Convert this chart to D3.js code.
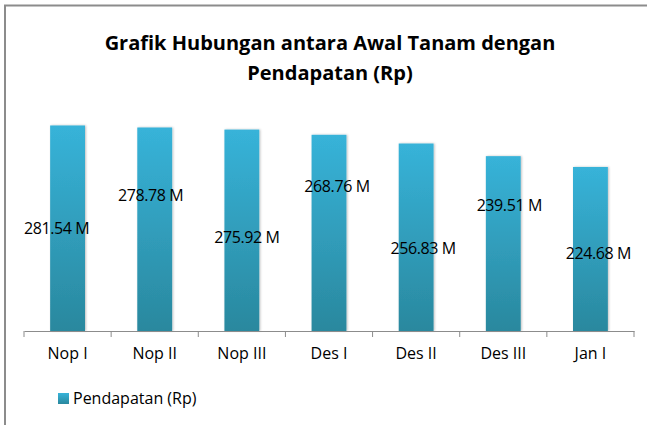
<!DOCTYPE html>
<html>
<head>
<meta charset="utf-8">
<script src="https://cdn.jsdelivr.net/npm/d3@7"></script>
<style>
	body { margin: 0; background: #fff; }
	svg { display: block; font-family: "Open Sans", "Noto Sans", sans-serif; }
</style>
</head>
<body>
<div id="main"></div>
<script>
// chart data
var categories = ['Nop I', 'Nop II', 'Nop III', 'Des I', 'Des II', 'Des III', 'Jan I'];
var pendapatan = [281.54, 278.78, 275.92, 268.76, 256.83, 239.51, 224.68];
var labels = ['281.54 M', '278.78 M', '275.92 M', '268.76 M', '256.83 M', '239.51 M', '224.68 M'];
var titleLines = ['Grafik Hubungan antara Awal Tanam dengan', 'Pendapatan (Rp)'];
var seriesName = 'Pendapatan (Rp)';

// where the data labels were dragged to (offset from bar centre / top), layout only
var labelDx = [-11, -4, 5, 8, 7, 6, 8];
var labelDy = [103, 68, 107, 51, 104, 49, 86];

var W = 647, H = 425;
var margin = {top: 112, left: 24, right: 13, bottom: 94};

var svg = d3.select('#main').append('svg')
	.attr('width', W)
	.attr('height', H);

var defs = svg.append('defs');
var grad = defs.append('linearGradient')
	.attr('id', 'barGrad')
	.attr('x1', 0).attr('y1', 0).attr('x2', 0).attr('y2', 1);
grad.append('stop').attr('offset', '0%').attr('stop-color', '#37b3d9');
grad.append('stop').attr('offset', '100%').attr('stop-color', '#2a889e');

var shadow = defs.append('filter').attr('id', 'shadow')
	.attr('x', '-20%').attr('y', '-5%').attr('width', '140%').attr('height', '110%');
shadow.append('feDropShadow')
	.attr('dx', 1).attr('dy', 0).attr('stdDeviation', 1.2)
	.attr('flood-color', '#000').attr('flood-opacity', 0.25);

// frame (only top and left visible in the picture)
svg.append('line')
	.attr('x1', 4).attr('x2', 647).attr('y1', 5.5).attr('y2', 5.5)
	.attr('stroke', '#8c8c8c').attr('stroke-width', 2);
svg.append('line')
	.attr('x1', 5).attr('x2', 5).attr('y1', 5).attr('y2', H)
	.attr('stroke', '#8c8c8c').attr('stroke-width', 2);

// title
svg.append('text')
	.attr('text-anchor', 'middle')
	.attr('font-weight', 'bold')
	.attr('font-size', 20)
	.attr('fill', '#000')
	.selectAll('tspan')
	.data(titleLines)
	.enter().append('tspan')
	.attr('x', 330)
	.attr('y', function(d, i) { return 50 + i * 30; })
	.text(function(d) { return d; });

var x = d3.scaleBand()
	.domain(categories)
	.range([margin.left, W - margin.right])
	.paddingInner(0.6)
	.paddingOuter(0.3);

var y = d3.scaleLinear()
	.domain([0, 300])
	.range([H - margin.bottom, margin.top]);

var baseY = y(0);

svg.selectAll('rect.bar')
	.data(pendapatan)
	.enter()
	.append('rect')
	.attr('class', 'bar')
	.attr('x', function(d, i) { return x(categories[i]); })
	.attr('y', function(d) { return y(d); })
	.attr('width', x.bandwidth())
	.attr('height', function(d) { return baseY - y(d); })
	.attr('fill', 'url(#barGrad)')
	.attr('filter', 'url(#shadow)');

// category axis
var xAxis = d3.scaleBand().domain(categories).range([margin.left, W - margin.right]);
var axisG = svg.append('g')
	.attr('transform', 'translate(0,' + baseY + ')')
	.call(d3.axisBottom(xAxis).tickSize(0).tickPadding(17));
axisG.select('.domain').attr('stroke', '#8c8c8c');
axisG.selectAll('.tick line').remove();
axisG.selectAll('.tick text')
	.attr('font-size', 16)
	.attr('font-family', '"Open Sans", "Noto Sans", sans-serif')
	.attr('fill', '#000');
// tick marks between categories
var bounds = categories.map(function(c) { return xAxis(c); }).concat([W - margin.right]);
svg.selectAll('line.sep')
	.data(bounds)
	.enter().append('line')
	.attr('x1', function(d) { return d; })
	.attr('x2', function(d) { return d; })
	.attr('y1', baseY)
	.attr('y2', baseY + 6)
	.attr('stroke', '#8c8c8c');

// data labels
svg.selectAll('text.val')
	.data(labels)
	.enter().append('text')
	.attr('class', 'val')
	.attr('text-anchor', 'middle')
	.attr('font-size', 16)
	.attr('letter-spacing', -0.4)
	.attr('fill', '#000')
	.attr('x', function(d, i) { return x(categories[i]) + x.bandwidth() / 2 + labelDx[i]; })
	.attr('y', function(d, i) { return y(pendapatan[i]) + labelDy[i] + 6; })
	.text(function(d) { return d; });

// legend
var leg = svg.append('g').attr('transform', 'translate(58,393)');
leg.append('rect')
	.attr('width', 11).attr('height', 11)
	.attr('fill', 'url(#barGrad)');
leg.append('text')
	.attr('x', 15).attr('y', 11)
	.attr('font-size', 16)
	.attr('fill', '#000')
	.text(seriesName);
</script>
</body>
</html>
